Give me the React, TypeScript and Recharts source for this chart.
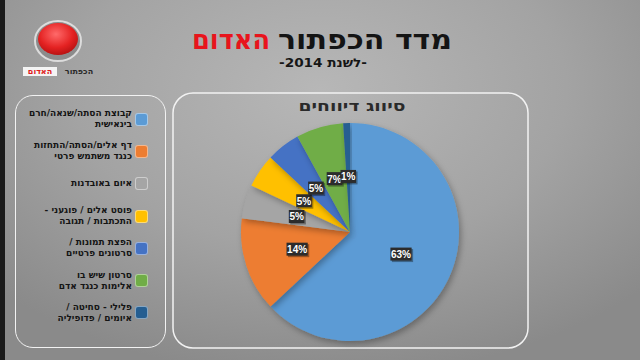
import { Legend, Pie, PieChart } from "recharts";

const categories = [
  "קבוצת הסתה/שנאה/חרם\nבינאישית",
  "דף אלים/הסתה/התחזות\nכנגד משתמש פרטי",
  "איום באובדנות",
  "פוסט אלים / פוגעני -\nהתכתבות / תגובה",
  "הפצת תמונות /\nסרטונים פרטיים",
  "סרטון שיש בו\nאלימות כנגד אדם",
  "פלילי - סחיטה /\nאיומים / פדופיליה",
];
const shares = [63, 14, 5, 5, 5, 7, 1];
const colors = ["#5b9bd5", "#ed7d31", "#a5a5a5", "#ffc000", "#4472c4", "#70ad47", "#255e91"];

const titleBlack = "מדד הכפתור";
const titleRed = "האדום";
const subtitle = "-לשנת 2014-";
const chartTitle = "סיווג דיווחים";

const data = categories.map((name, i) => ({ name, value: shares[i], fill: colors[i] }));

const FONT = "'DejaVu Sans', sans-serif";

function PctLabel(props: any) {
  const { cx, cy, midAngle, outerRadius, value } = props;
  const r = outerRadius * 0.51;
  const a = (-midAngle * Math.PI) / 180;
  const x = cx + r * Math.cos(a);
  const y = cy + r * Math.sin(a);
  const text = `${value}%`;
  const w = (text.length - 1) * 5.6 + 10;
  return (
    <g>
      <rect x={x - w / 2 + 1.5} y={y - 6.5 + 1.5} width={w} height={13} fill="#000" opacity={0.35} />
      <rect x={x - w / 2} y={y - 6.5} width={w} height={13} fill="#2c2c2c" />
      <text
        x={x}
        y={y + 0.5}
        textAnchor="middle"
        dominantBaseline="central"
        fill="#fff"
        fontSize={10}
        fontWeight={700}
        fontFamily="'Liberation Sans', sans-serif"
      >
        {text}
      </text>
    </g>
  );
}

function LegendBox({ payload }: any) {
  return (
    <div
      style={{
        width: 151,
        height: 253,
        boxSizing: "border-box",
        border: "1.5px solid #f2f2f2",
        borderRadius: 18,
        paddingTop: 7,
      }}
    >
      {(payload || []).map((entry: any, i: number) => (
        <div
          key={i}
          style={{ height: 32.3, display: "flex", alignItems: "center", justifyContent: "flex-end", paddingRight: 17 }}
        >
          <div
            style={{
              direction: "rtl",
              textAlign: "right",
              whiteSpace: "pre-line",
              fontSize: 9,
              fontWeight: 700,
              lineHeight: "11px",
              color: "#141414",
              marginRight: 3,
              fontFamily: FONT,
            }}
          >
            {entry.value}
          </div>
          <div
            style={{
              width: 13,
              height: 13,
              borderRadius: 3,
              background: entry.color,
              border: "1px solid rgba(255,255,255,0.45)",
              boxSizing: "border-box",
              flexShrink: 0,
            }}
          />
        </div>
      ))}
    </div>
  );
}

export default function App() {
  return (
    <div
      style={{
        position: "absolute",
        left: 0,
        top: 0,
        width: 640,
        height: 360,
        overflow: "hidden",
        background: "radial-gradient(ellipse 70% 80% at 50% 25%, #b7b7b7 0%, #a3a3a3 55%, #8a8a8a 100%)",
      }}
    >
      <PieChart width={640} height={360} margin={{ top: 0, right: 0, bottom: 0, left: 0 }}>
        <defs>
          <filter id="pieShadow" x="-20%" y="-20%" width="140%" height="140%">
            <feDropShadow dx="2" dy="3" stdDeviation="3" floodColor="#000" floodOpacity="0.3" />
          </filter>
          <radialGradient id="btn" cx="45%" cy="35%" r="70%">
            <stop offset="0%" stopColor="#ff6a6a" />
            <stop offset="60%" stopColor="#e42222" />
            <stop offset="100%" stopColor="#b01010" />
          </radialGradient>
        </defs>
        <rect x={0} y={0} width={5} height={360} fill="#1a1a1a" />
        {/* logo */}
        <ellipse cx={58} cy={41} rx={23} ry={20} fill="#8c8c8c" stroke="#dcdcdc" strokeWidth={2} />
        <ellipse cx={58} cy={39} rx={20} ry={16} fill="url(#btn)" />
        <text x={79} y={74} textAnchor="middle" fontSize={8} fontWeight={700} fontFamily={FONT} fill="#2a2a2a" direction="rtl">
          הכפתור
        </text>
        <rect x={23} y={67} width={34} height={9} fill="#f4f4f4" />
        <text x={40} y={74} textAnchor="middle" fontSize={8} fontWeight={700} fontFamily={FONT} fill="#e01b1b" direction="rtl">
          האדום
        </text>
        {/* titles */}
        <text x={365} y={49} textAnchor="middle" fontSize={27} fontWeight={700} fontFamily={FONT} fill="#141414" direction="rtl" textLength={174} lengthAdjust="spacingAndGlyphs">
          {titleBlack}
        </text>
        <text x={231} y={49} textAnchor="middle" fontSize={27} fontWeight={700} fontFamily={FONT} fill="#e8141c" direction="rtl" textLength={78} lengthAdjust="spacingAndGlyphs">
          {titleRed}
        </text>
        <text x={323} y={67} textAnchor="middle" fontSize={12} fontWeight={700} fontFamily={FONT} fill="#161616" direction="rtl" textLength={88} lengthAdjust="spacingAndGlyphs">
          {subtitle}
        </text>
        {/* chart frame */}
        <rect x={173} y={93} width={355} height={255} rx={20} fill="none" stroke="#f2f2f2" strokeWidth={1.5} />
        <text x={352} y={111} textAnchor="middle" fontSize={15} fontWeight={700} fontFamily={FONT} fill="#2a2a2a" direction="rtl" textLength={107} lengthAdjust="spacingAndGlyphs">
          {chartTitle}
        </text>
        <Pie
          data={data}
          dataKey="value"
          nameKey="name"
          cx={350}
          cy={232}
          outerRadius={109}
          startAngle={90}
          endAngle={-270}
          stroke="none"
          label={PctLabel}
          labelLine={false}
          isAnimationActive={false}
          style={{ filter: "url(#pieShadow)" }}
        />
        <Legend
          layout="vertical"
          align="center"
          verticalAlign="middle"
          content={LegendBox}
          itemSorter={(item: any) => categories.indexOf(item.value)}
          wrapperStyle={{ left: 15, top: 95, width: 151, height: 253 }}
        />
      </PieChart>
    </div>
  );
}
